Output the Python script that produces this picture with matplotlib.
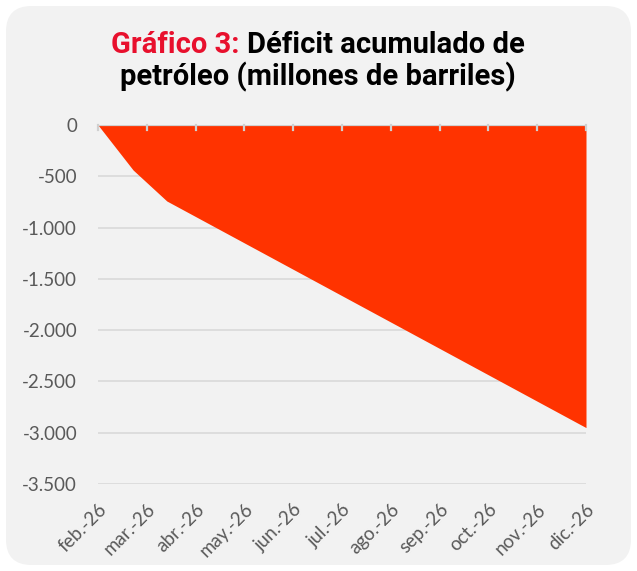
import matplotlib
matplotlib.use("Agg")
import matplotlib.pyplot as plt
from matplotlib.patches import FancyBboxPatch
import numpy as np

# ---- data ----
month_labels = ["feb.-26", "mar.-26", "abr.-26", "may.-26", "jun.-26", "jul.-26",
                "ago.-26", "sep.-26", "oct.-26", "nov.-26", "dic.-26"]
t_months = [0, 0.72, 1.41, 10]            # time in months since feb-26
deficit = [0, -439, -741, -2950]          # cumulative deficit (million barrels)
y_ticks = [0, -500, -1000, -1500, -2000, -2500, -3000, -3500]

W, H = 637, 571
fig = plt.figure(figsize=(W / 100, H / 100), dpi=100)
fig.patch.set_facecolor("white")

# rounded background panel
bg = FancyBboxPatch((6 / W, 6 / H), (W - 12) / W, (H - 12) / H,
                    boxstyle="round,pad=0,rounding_size=0.04",
                    transform=fig.transFigure, facecolor="#f2f2f2",
                    edgecolor="none", zorder=-5, mutation_aspect=W / H)
fig.patches.append(bg)

# axes placement: x 98..586 px, y 125..484 px
left, right = 98, 586
top, bottom = 125, 484
ax = fig.add_axes([left / W, 1 - bottom / H, (right - left) / W, (bottom - top) / H])
ax.set_facecolor("none")
ax.set_zorder(5)

ax.fill_between(t_months, deficit, 0, color="#ff3300", linewidth=0, zorder=2)

ax.set_xlim(0, len(month_labels) - 1)
ax.set_ylim(-3500, 0)

ax.set_yticks(y_ticks)
ax.set_yticklabels([f"{v:,}".replace(",", ".") if v != 0 else "0" for v in y_ticks])
ax.set_xticks(range(len(month_labels)))
ax.set_xticklabels(month_labels, rotation=45, ha="right", rotation_mode="anchor")

for v in y_ticks[1:]:
    ax.axhline(v, color="#d9d9d9", linewidth=1.2, zorder=1)
ax.axhline(0, color="#d0d0d0", linewidth=1.6, zorder=3)

for s in ax.spines.values():
    s.set_visible(False)

ax.tick_params(axis="y", length=0, pad=15, labelsize=13.5, labelcolor="#595959")
ax.tick_params(axis="x", length=0, pad=12, labelsize=13.5, labelcolor="#595959")
for lab in ax.get_xticklabels() + ax.get_yticklabels():
    lab.set_family("Lato")

# small tick marks hanging from the zero axis
for i in range(len(month_labels)):
    ax.plot([i, i], [0, -45], color="#d0d0d0", linewidth=1.6, zorder=3, clip_on=False)

# ---- title (two colours) ----
fig.canvas.draw()
renderer = fig.canvas.get_renderer()
fs = 21
fam = "Roboto"
red_part = "Gráfico 3: "
black_part = "Déficit acumulado de"
t1 = fig.text(0, 0, red_part, fontsize=fs, fontweight="bold", family=fam, color="#e8102d")
t2 = fig.text(0, 0, black_part, fontsize=fs, fontweight="bold", family=fam, color="black")
w1 = t1.get_window_extent(renderer).width
w2 = t2.get_window_extent(renderer).width
x0 = (318 - (w1 + w2) / 2)
y1 = 1 - 45 / H
t1.set_position((x0 / W, y1)); t1.set_va("center")
t2.set_position(((x0 + w1) / W, y1)); t2.set_va("center")
fig.text(318 / W, 1 - 77 / H, "petróleo (millones de barriles)", fontsize=fs,
         fontweight="bold", family=fam, color="black", ha="center", va="center")

fig.savefig("out.png", dpi=100, facecolor=fig.get_facecolor())
